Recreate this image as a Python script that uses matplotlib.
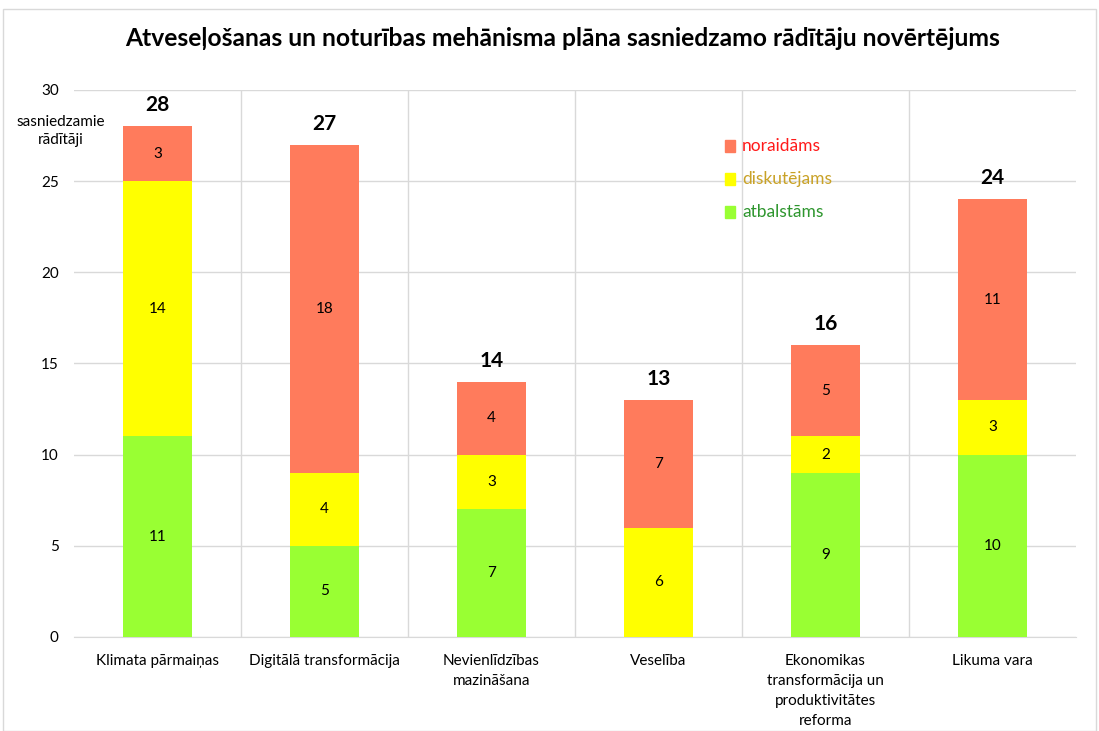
import matplotlib
matplotlib.use("Agg")
import matplotlib.pyplot as plt
import numpy as np
from matplotlib.patches import Rectangle

categories = ["Klimata pārmaiņas", "Digitālā transformācija", "Nevienlīdzības\nmazināšana",
              "Veselība", "Ekonomikas\ntransformācija un\nproduktivitātes\nreforma", "Likuma vara"]
atbalstams = [11, 5, 7, 0, 9, 10]
diskutejams = [14, 4, 3, 6, 2, 3]
noraidams = [3, 18, 4, 7, 5, 11]
series_names = ["atbalstāms", "diskutējams", "noraidāms"]
colors = ["#99FF33", "#FFFF00", "#FF7B5C"]
text_colors = ["#2E962E", "#C9A227", "#FF1A1A"]
title = "Atveseļošanas un noturības mehānisma plāna sasniedzamo rādītāju novērtējums"

plt.rcParams['font.family'] = ['Lato', 'DejaVu Sans']

fig = plt.figure(figsize=(10.99, 7.31), dpi=100)
ax = fig.add_axes([0.0673, 0.1286, 0.9117, 0.7484])

x = np.arange(len(categories))
w = 0.41
bottom = np.zeros(len(categories))
for vals, c in zip([atbalstams, diskutejams, noraidams], colors):
    vals = np.array(vals)
    ax.bar(x, vals, w, bottom=bottom, color=c, zorder=3)
    for i, v in enumerate(vals):
        if v > 0:
            ax.text(x[i], bottom[i] + v / 2, str(v), ha='center', va='center', fontsize=11, zorder=4)
    bottom += vals

for i, t in enumerate(bottom):
    ax.text(x[i], t + 0.6, str(int(t)), ha='center', va='bottom', fontsize=15, fontweight='bold')

ax.set_xlim(-0.5, len(categories) - 0.5)
ax.set_ylim(0, 30)
ax.set_yticks(range(0, 31, 5))
ax.set_xticks(x)
ax.set_xticklabels(categories, fontsize=11, linespacing=1.55)
ax.set_xticks(np.arange(0.5, len(categories) - 1, 1), minor=True)
ax.tick_params(axis='both', which='both', length=0, labelsize=11)
ax.tick_params(axis='x', pad=12)
ax.tick_params(axis='y', pad=11)
ax.grid(axis='y', which='major', color='#D9D9D9', lw=1, zorder=0)
ax.grid(axis='x', which='minor', color='#D9D9D9', lw=1, zorder=0)
for s in ['top', 'right', 'left']:
    ax.spines[s].set_visible(False)
ax.spines['bottom'].set_color('#D9D9D9')

ax.text(-0.58, 28.6, "sasniedzamie\nrādītāji", ha='center', va='top', fontsize=11, linespacing=1.3)

# legend
for k, (name, c, tc) in enumerate(zip(series_names[::-1], colors[::-1], text_colors[::-1])):
    yy = 26.9 - k * 1.8
    ax.add_patch(Rectangle((3.40, yy - 0.33), 0.06, 0.66, color=c, zorder=5, clip_on=False))
    ax.text(3.50, yy, name, color=tc, fontsize=12.5, va='center', ha='left')

fig.text(0.512, 0.948, title, ha='center', va='center', fontsize=17.7, fontweight='bold')
fig.patches.append(Rectangle((0.003, 0.0), 0.994, 0.988, transform=fig.transFigure,
                             fill=False, edgecolor='#D9D9D9', lw=1))

fig.savefig("out.png", dpi=100)
